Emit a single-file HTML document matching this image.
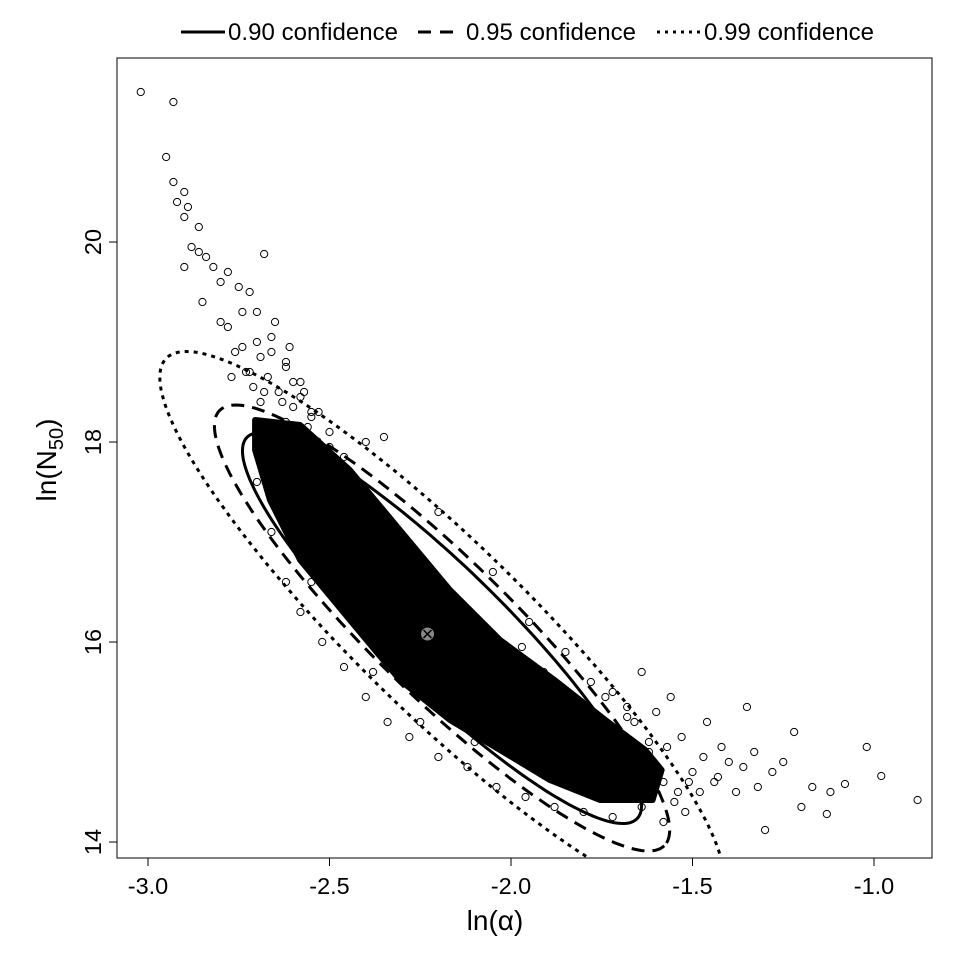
<!DOCTYPE html>
<html><head><meta charset="utf-8"><style>
body{margin:0;background:#fff}
svg{display:block;font-family:"Liberation Sans",Arial,sans-serif}
</style></head><body>
<svg id="chart" width="960" height="960">
<rect x="0" y="0" width="960" height="960" fill="#fff"/>
<g id="marks"></g>
<rect x="117" y="58" width="815" height="800" fill="none" stroke="#000" stroke-width="1"/>
<g id="axes"></g>
<text x="495" y="930" font-size="28" text-anchor="middle">ln(α)</text>
<text transform="translate(56,460) rotate(-90)" font-size="28" text-anchor="middle">ln(N<tspan font-size="20" dy="7">50</tspan><tspan dy="-7">)</tspan></text>
<g>
<g><line x1="181" y1="32" x2="225" y2="32" stroke="#000" stroke-width="3"/><text x="228" y="40" font-size="24" textLength="170">0.90 confidence</text></g>
<g><line x1="418" y1="32" x2="462" y2="32" stroke="#000" stroke-width="3" stroke-dasharray="13,9"/><text x="466" y="40" font-size="24" textLength="170">0.95 confidence</text></g>
<g><line x1="657" y1="32" x2="701" y2="32" stroke="#000" stroke-width="3" stroke-dasharray="3,5"/><text x="704" y="40" font-size="24" textLength="170">0.99 confidence</text></g>
</g>
</svg>
<script>
const xTicks=[-3.0,-2.5,-2.0,-1.5,-1.0];
const xTickLabels=["-3.0","-2.5","-2.0","-1.5","-1.0"];
const yTicks=[14,16,18,20];
const yTickLabels=["14","16","18","20"];
const levels=[0.90,0.95,0.99];
const levelDash=["none","13,8","4,5"];
const center=[-2.19,16.14];
const majorUnit=[0.250,-0.890];
const minorUnit=[-0.056,-0.195];
const estimate=[-2.23,16.08];
const coreX=[-2.705,-2.581,-2.444,-2.306,-2.168,-2.030,-1.88,-1.74,-1.63,-1.585,-1.61,-1.755,-1.893,-2.030,-2.168,-2.306,-2.444,-2.581,-2.664,-2.705];
const coreY=[18.22,18.17,17.72,17.12,16.52,16.02,15.62,15.22,14.92,14.72,14.42,14.42,14.62,14.92,15.22,15.62,16.22,16.82,17.42,17.92];
const ptsX=[-3.02,-2.93,-2.95,-2.93,-2.90,-2.92,-2.89,-2.90,-2.86,-2.88,-2.86,-2.84,-2.82,-2.90,-2.85,-2.80,-2.78,-2.75,-2.72,-2.70,-2.74,-2.80,-2.78,-2.68,-2.65,-2.70,-2.66,-2.62,-2.72,-2.60,-2.68,-2.58,-2.55,-2.62,-2.50,-2.40,-2.64,-2.70,
-0.88,-0.98,-1.02,-1.08,-1.13,-1.12,-1.17,-1.20,-1.22,-1.25,-1.28,-1.30,-1.32,-1.33,-1.35,-1.36,-1.38,-1.40,-1.42,-1.44,-1.46,-1.48,-1.50,-1.52,-1.53,-1.55,-1.56,-1.58,-1.60,-1.62,-1.64,-1.66,-1.68,-1.70,-1.72,-1.75,-1.78,-1.80,-2.10,-2.25,-2.38,-2.45,-2.55,-2.20,-2.05,-1.95,-1.85,-2.35,
-2.76,-2.73,-2.71,-2.69,-2.67,-2.64,-2.62,-2.60,-2.57,-2.55,-2.52,-2.48,-2.42,-2.36,-2.30,-2.24,-2.18,-2.12,-2.06,-2.00,-1.94,-1.88,-1.82,-1.76,-1.70,-1.66,
-2.70,-2.66,-2.62,-2.58,-2.52,-2.46,-2.40,-2.34,-2.28,-2.20,-2.12,-2.04,-1.96,-1.88,-1.80,-1.72,-1.64,-1.58,-1.54,
-2.77,-2.74,-2.69,-2.66,-2.63,-2.61,-2.58,-2.56,-2.53,-2.50,-2.46,-2.43,-2.39,-2.33,-2.27,-2.21,-2.15,-2.09,-2.02,-1.97,-1.91,-1.86,-1.80,-1.74,-1.68,-1.62,-1.57,-1.51,-1.47,-1.43];
const ptsY=[21.5,21.4,20.85,20.6,20.5,20.4,20.35,20.25,20.15,19.95,19.9,19.85,19.75,19.75,19.4,19.6,19.7,19.55,19.5,19.3,19.3,19.2,19.15,19.88,19.2,19.0,18.9,18.8,18.7,18.6,18.5,18.45,18.3,18.2,18.1,18.0,18.1,18.05,
14.42,14.66,14.95,14.58,14.28,14.5,14.55,14.35,15.1,14.8,14.7,14.12,14.55,14.9,15.35,14.75,14.5,14.8,14.95,14.6,15.2,14.5,14.7,14.3,15.05,14.4,15.45,14.2,15.3,15.0,15.7,15.2,15.35,14.9,15.5,15.1,15.6,14.8,15.0,15.2,15.7,16.3,16.6,17.3,16.7,16.2,15.9,18.05,
18.9,18.7,18.55,18.4,18.65,18.5,18.75,18.35,18.5,18.25,17.95,17.7,17.55,17.25,16.95,16.7,16.45,16.2,16.05,15.8,15.65,15.5,15.35,15.15,15.05,14.85,
17.6,17.1,16.6,16.3,16.0,15.75,15.45,15.2,15.05,14.85,14.75,14.55,14.45,14.35,14.3,14.25,14.35,14.6,14.5,
18.65,18.95,18.85,19.05,18.4,18.95,18.6,18.15,18.3,17.95,17.85,17.45,17.35,17.0,16.8,16.6,16.35,16.1,15.85,15.95,15.7,15.4,15.25,15.45,15.25,14.9,14.95,14.6,14.85,14.65];
const X=v=>148+(v+3)*363;
const Y=v=>642-(v-16)*100;
const NS="http://www.w3.org/2000/svg";
const marks=document.getElementById('marks'), axes=document.getElementById('axes');
function mk(tag,attrs,parent){const e=document.createElementNS(NS,tag);for(const k in attrs)e.setAttribute(k,attrs[k]);parent.appendChild(e);return e;}
const clip=mk('clipPath',{id:'pc'},marks);mk('rect',{x:117,y:58,width:815,height:800},clip);
const g=mk('g',{'clip-path':'url(#pc)'},marks);
let d=coreX.map((x,i)=>(i?'L':'M')+X(x)+','+Y(coreY[i])).join('')+'Z';
const core=mk('path',{d:d,fill:'#000','stroke-linejoin':'round',stroke:'#000','stroke-width':6},g);


ptsX.forEach((x,i)=>{const c=mk('circle',{cx:X(x),cy:Y(ptsY[i]),r:3.6,fill:'none',stroke:'#000','stroke-width':1},g);

});
levels.forEach((p,i)=>{const s=Math.sqrt(-2*Math.log(1-p));let pd='';
for(let k=0;k<=180;k++){const t=k/180*2*Math.PI;const x=center[0]+s*(majorUnit[0]*Math.cos(t)+minorUnit[0]*Math.sin(t));const y=center[1]+s*(majorUnit[1]*Math.cos(t)+minorUnit[1]*Math.sin(t));pd+=(k?'L':'M')+X(x).toFixed(1)+','+Y(y).toFixed(1);}
const e=mk('path',{d:pd,fill:'none',stroke:'#000','stroke-width':3,'stroke-dasharray':levelDash[i]},g);

});
const em=mk('g',{},g);


const ex=X(estimate[0]),ey=Y(estimate[1]);
mk('circle',{cx:ex,cy:ey,r:6,fill:'#888',stroke:'#888'},em);
mk('path',{d:`M${ex-4},${ey-4}L${ex+4},${ey+4}M${ex-4},${ey+4}L${ex+4},${ey-4}`,stroke:'#000','stroke-width':1.5},em);
mk('line',{x1:X(xTicks[0]),y1:858,x2:X(xTicks[xTicks.length-1]),y2:858,stroke:'#000'},axes);
xTicks.forEach((v,i)=>{mk('line',{x1:X(v),y1:858,x2:X(v),y2:866,stroke:'#000'},axes);
const t=mk('text',{x:X(v),y:894,'font-size':23.5,'text-anchor':'middle'},axes);t.textContent=xTickLabels[i];

});
mk('line',{x1:117,y1:Y(yTicks[0]),x2:117,y2:Y(yTicks[yTicks.length-1]),stroke:'#000'},axes);
yTicks.forEach((v,i)=>{mk('line',{x1:109,y1:Y(v),x2:117,y2:Y(v),stroke:'#000'},axes);
const t=mk('text',{transform:`translate(101,${Y(v)}) rotate(-90)`,'font-size':23.5,'text-anchor':'middle'},axes);t.textContent=yTickLabels[i];

});
</script>
</body></html>
